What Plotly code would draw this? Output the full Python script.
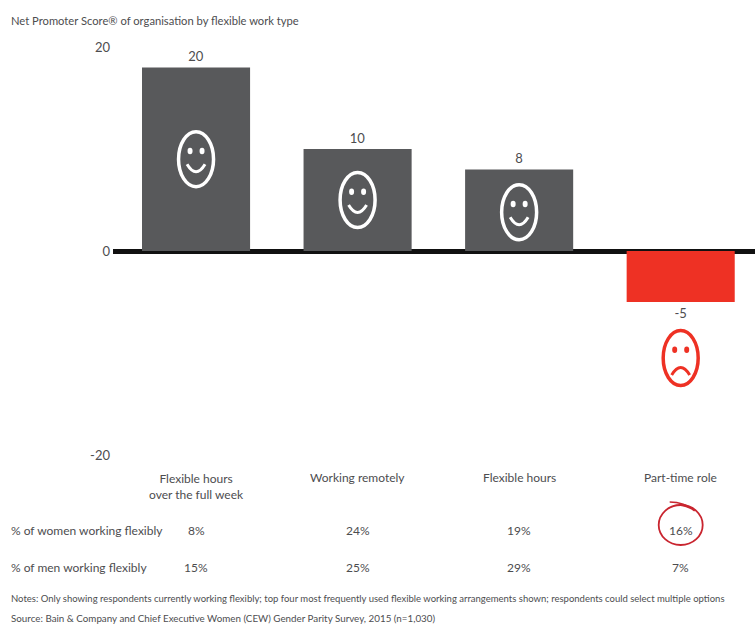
import plotly.graph_objects as go

categories = ["Flexible hours<br>over the full week", "Working remotely", "Flexible hours", "Part-time role"]
bar_values = [18, 10, 8, -5]
bar_labels = ["20", "10", "8", "-5"]
bar_colors = ["#58595b", "#58595b", "#58595b", "#ee3124"]
face_levels = [9, 5, 3.8, -10.5]
face_moods = ["happy", "happy", "happy", "sad"]
women_pct = ["8%", "24%", "19%", "16%"]
men_pct = ["15%", "25%", "29%", "7%"]
y_ticks = [-20, 0, 20]
title_text = "Net Promoter Score® of organisation by flexible work type"
notes_text = ("Notes: Only showing respondents currently working flexibly; top four most frequently used "
              "flexible working arrangements shown; respondents could select multiple options")
source_text = "Source: Bain & Company and Chief Executive Women (CEW) Gender Parity Survey, 2015 (n=1,030)"

W, H = 755, 628
L, R, T, B = 113, 0, 47, 173
FONT = "Lato"
TXT = "#4d4d4f"
x_pos = list(range(len(categories)))
LEFT = (10 - L) / (W - L - R)


def py(pixel_y):
    return (H - B - pixel_y) / (H - T - B)


fig = go.Figure(go.Bar(
    x=x_pos, y=bar_values, width=0.669,
    marker=dict(color=bar_colors, line_width=0),
    text=bar_labels, textposition="outside", cliponaxis=False,
    textfont=dict(family=FONT, size=13, color=TXT),
    hoverinfo="skip",
))

shapes = []
for i, (lvl, mood) in enumerate(zip(face_levels, face_moods)):
    col = "#ffffff" if mood == "happy" else "#ee3124"
    common = dict(xref="x", yref="y", xsizemode="pixel", ysizemode="pixel",
                  xanchor=i, yanchor=lvl)
    shapes.append(dict(type="circle", x0=-17.5, x1=17.5, y0=-27.5, y1=27.5,
                       line=dict(color=col, width=3.5), **common))
    for ex in (-6, 6):
        shapes.append(dict(type="circle", x0=ex - 2.5, x1=ex + 2.5, y0=5, y1=11.5,
                           fillcolor=col, line_width=0, **common))
    mouth = "M -9 -5 Q 0 -20 9 -5" if mood == "happy" else "M -9 -17 Q 0 -2 9 -17"
    shapes.append(dict(type="path", path=mouth, line=dict(color=col, width=3), **common))

# hand-drawn ring round the 16% cell
ring = dict(xref="x", yref="paper", xsizemode="pixel", ysizemode="pixel",
            xanchor=3, yanchor=py(525))
shapes.append(dict(type="circle", x0=-22, x1=22, y0=-20, y1=20,
                   line=dict(color="#c9252f", width=1.8), **ring))
shapes.append(dict(type="path", path="M -11 23 Q 4 23 14 14 Q 8 19 -2 20",
                   line=dict(color="#c9252f", width=1.6), **ring))

annotations = []


def note(text, x, pixel_y, xref="x", anchor="center", size=12):
    annotations.append(dict(text=text, x=x, xref=xref, y=py(pixel_y), yref="paper",
                            xanchor=anchor, yanchor="middle", showarrow=False,
                            align=anchor, borderpad=0,
                            font=dict(family=FONT, size=size, color=TXT)))


for i, c in enumerate(categories):
    note(c, i, 486 if "<br>" in c else 477)
for i, v in enumerate(women_pct):
    note(v, i, 530)
for i, v in enumerate(men_pct):
    note(v, i, 567)

note("% of women working flexibly", LEFT, 530, xref="paper", anchor="left")
note("% of men working flexibly", LEFT, 567, xref="paper", anchor="left")
note(title_text, LEFT, 20, xref="paper", anchor="left", size=11.2)
note(notes_text, LEFT, 598, xref="paper", anchor="left", size=9.5)
note(source_text, LEFT, 618, xref="paper", anchor="left", size=9.8)

fig.update_layout(
    width=W, height=H, margin=dict(l=L, r=R, t=T, b=B, pad=0),
    paper_bgcolor="white", plot_bgcolor="white", showlegend=False,
    shapes=shapes, annotations=annotations,
    xaxis=dict(range=[-0.514, 3.46], visible=False, fixedrange=True),
    yaxis=dict(range=[-20, 20], tickvals=y_ticks, ticktext=["-20", "0", "20"],
               showgrid=False, showline=False, ticks="", ticklabelstandoff=2,
               zeroline=True, zerolinecolor="#111111", zerolinewidth=5,
               tickfont=dict(family=FONT, size=13, color=TXT), fixedrange=True),
)
fig.write_html("out.html", config={"displayModeBar": False},
               post_script="document.body.style.margin='0';")
